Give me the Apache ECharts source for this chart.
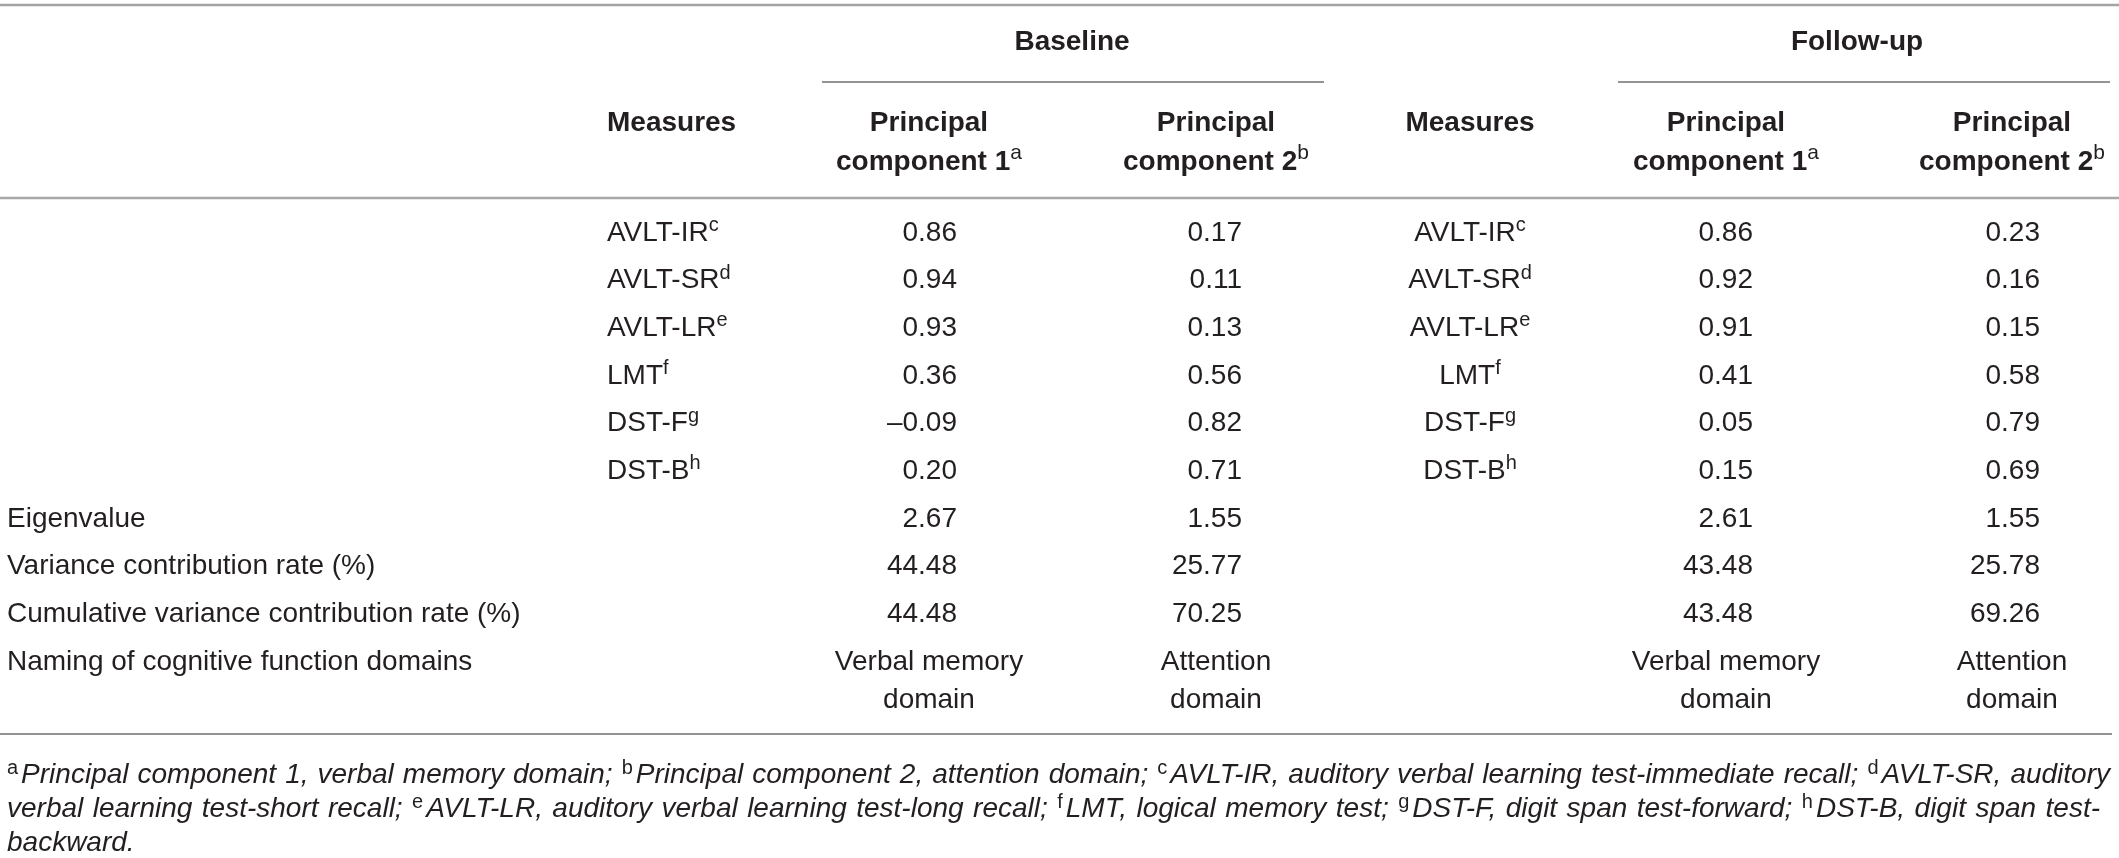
<!DOCTYPE html>
<html>
<head>
<meta charset="utf-8">
<script src="https://cdn.jsdelivr.net/npm/echarts@6/dist/echarts.min.js"></script>
<style>
  html, body { margin: 0; padding: 0; background: #fff; }
  #main { width: 2119px; height: 858px; }
</style>
</head>
<body>
<div id="main"></div>
<script>
// table data
const rowKeys = ['IR', 'SR', 'LR', 'LMT', 'DSTF', 'DSTB', 'EIG', 'VAR', 'CUM', 'NAME'];
const measures = ['AVLT-IR', 'AVLT-SR', 'AVLT-LR', 'LMT', 'DST-F', 'DST-B'];
const measureNotes = ['c', 'd', 'e', 'f', 'g', 'h'];
const baselinePC1 = [0.86, 0.94, 0.93, 0.36, -0.09, 0.20];
const baselinePC2 = [0.17, 0.11, 0.13, 0.56, 0.82, 0.71];
const followupPC1 = [0.86, 0.92, 0.91, 0.41, 0.05, 0.15];
const followupPC2 = [0.23, 0.16, 0.15, 0.58, 0.79, 0.69];
const statLabels = ['Eigenvalue', 'Variance contribution rate (%)', 'Cumulative variance contribution rate (%)'];
const baselineStat1 = [2.67, 44.48, 44.48];
const baselineStat2 = [1.55, 25.77, 70.25];
const followupStat1 = [2.61, 43.48, 43.48];
const followupStat2 = [1.55, 25.78, 69.26];
const namingLabel = 'Naming of cognitive function domains';
const domainNames = ['Verbal memory\ndomain', 'Attention\ndomain'];
const footnotes = [
  [['a', 'Principal component 1, verbal memory domain;'], ['b', 'Principal component 2, attention domain;'],
   ['c', 'AVLT-IR, auditory verbal learning test-immediate recall;'], ['d', 'AVLT-SR, auditory']],
  [['', 'verbal learning test-short recall;'], ['e', 'AVLT-LR, auditory verbal learning test-long recall;'],
   ['f', 'LMT, logical memory test;'], ['g', 'DST-F, digit span test-forward;'], ['h', 'DST-B, digit span test-']],
  [['', 'backward.']]
];

// column anchors (layout only)
const col = { label: 7, measB: 607, pc1B: 957, pc2B: 1242, measF: 1470, pc1F: 1753, pc2F: 2040 };
const mid = { pc1B: 929, pc2B: 1216, pc1F: 1726, pc2F: 2012 };

const FONT = '"Liberation Sans", Arial, Helvetica, sans-serif';
const INK = '#231f20';

function fmt(v) {
  return v < 0 ? '\u2013' + Math.abs(v).toFixed(2) : v.toFixed(2);
}

// build cells
const cells = [];
function add(x, row, text, align) {
  cells.push({ value: [x, rowKeys[row]], text: text, align: align });
}
measures.forEach(function (m, i) {
  add(col.measB, i, '{n|' + m + '}{s|' + measureNotes[i] + '}', 'left');
  add(col.pc1B, i, fmt(baselinePC1[i]), 'right');
  add(col.pc2B, i, fmt(baselinePC2[i]), 'right');
  add(col.measF, i, '{n|' + m + '}{s|' + measureNotes[i] + '}', 'center');
  add(col.pc1F, i, fmt(followupPC1[i]), 'right');
  add(col.pc2F, i, fmt(followupPC2[i]), 'right');
});
statLabels.forEach(function (l, j) {
  const r = measures.length + j;
  add(col.label, r, l, 'left');
  add(col.pc1B, r, fmt(baselineStat1[j]), 'right');
  add(col.pc2B, r, fmt(baselineStat2[j]), 'right');
  add(col.pc1F, r, fmt(followupStat1[j]), 'right');
  add(col.pc2F, r, fmt(followupStat2[j]), 'right');
});
add(col.label, 9, namingLabel, 'left');
add(mid.pc1B, 9, domainNames[0], 'center');
add(mid.pc2B, 9, domainNames[1], 'center');
add(mid.pc1F, 9, domainNames[0], 'center');
add(mid.pc2F, 9, domainNames[1], 'center');

const cellRich = {
  n: { fontSize: 28, fontFamily: FONT, fill: INK, lineHeight: 35 },
  s: { fontSize: 20, fontFamily: FONT, fill: INK, verticalAlign: 'top' }
};

function header(x, y, text, align) {
  return {
    type: 'text', x: x, y: y,
    style: {
      text: text, align: align || 'center', verticalAlign: 'middle',
      fontSize: 28, fontWeight: 'bold', fontFamily: FONT, fill: INK
    }
  };
}
function pcHeader(x, n, sup) {
  return {
    type: 'text', x: x, y: 103.5,
    style: {
      text: '{b|Principal}\n{b|component ' + n + '}{s|' + sup + '}',
      align: 'center', verticalAlign: 'top', fill: INK,
      rich: {
        b: { fontSize: 28, fontWeight: 'bold', fontFamily: FONT, fill: INK, lineHeight: 39 },
        s: { fontSize: 21, fontFamily: FONT, fill: INK, verticalAlign: 'top' }
      }
    }
  };
}
function rule(x1, x2, y, color, w) {
  return { type: 'line', shape: { x1: x1, y1: y, x2: x2, y2: y }, style: { stroke: color, lineWidth: w } };
}

// justified footnote lines, word by word
const measureCtx = document.createElement('canvas').getContext('2d');
function textWidth(t, font) {
  measureCtx.font = font;
  return measureCtx.measureText(t).width;
}
const footFont = 'italic 28px ' + FONT;
const supFont = '20px ' + FONT;
const supGap = 3;
const footRich = {
  i: { fontSize: 28, fontStyle: 'italic', fontFamily: FONT, fill: INK, lineHeight: 34 },
  s: { fontSize: 20, fontFamily: FONT, fill: INK, verticalAlign: 'top', padding: [0, supGap, 0, 0] }
};
function footLine(parts, y, right) {
  const words = [];
  parts.forEach(function (p) {
    p[1].split(' ').filter(Boolean).forEach(function (wd, k) {
      const sup = k === 0 ? p[0] : '';
      words.push({ sup: sup, word: wd, w: (sup ? textWidth(sup, supFont) + supGap : 0) + textWidth(wd, footFont) });
    });
  });
  let gap = textWidth(' ', footFont);
  if (right) {
    const total = words.reduce(function (s, o) { return s + o.w; }, 0);
    gap = (right - 7 - total) / (words.length - 1);
  }
  const els = [];
  let x = 7;
  words.forEach(function (o) {
    els.push({
      type: 'text', x: x, y: y,
      style: {
        text: (o.sup ? '{s|' + o.sup + '}' : '') + '{i|' + o.word + '}',
        align: 'left', verticalAlign: 'middle', rich: footRich
      }
    });
    x += o.w + gap;
  });
  return els;
}

const chart = echarts.init(document.getElementById('main'), null, { renderer: 'canvas' });
chart.setOption({
  backgroundColor: '#ffffff',
  animation: false,
  grid: { left: 0, right: 0, top: 209, bottom: 172 },
  xAxis: { type: 'value', min: 0, max: 2119, show: false },
  yAxis: { type: 'category', data: rowKeys, inverse: true, show: false },
  graphic: [
    rule(0, 2119, 5, '#a3a3a3', 2.5),
    rule(822, 1324, 82, '#6f6f6f', 1.5),
    rule(1618, 2110, 82, '#6f6f6f', 1.5),
    rule(0, 2119, 198, '#a8a8a8', 2.5),
    rule(0, 2112, 734, '#6f6f6f', 1.5),
    header(1072, 42, 'Baseline'),
    header(1857, 42, 'Follow-up'),
    header(607, 123, 'Measures', 'left'),
    header(1470, 123, 'Measures'),
    pcHeader(mid.pc1B, 1, 'a'),
    pcHeader(mid.pc2B, 2, 'b'),
    pcHeader(mid.pc1F, 1, 'a'),
    pcHeader(mid.pc2F, 2, 'b')
  ].concat(footLine(footnotes[0], 775, 2110), footLine(footnotes[1], 809, 2100), footLine(footnotes[2], 843)),
  series: [{
    type: 'custom',
    coordinateSystem: 'cartesian2d',
    data: cells,
    renderItem: function (params, api) {
      const c = cells[params.dataIndex];
      const p = api.coord([api.value(0), api.value(1)]);
      const twoLine = c.text.indexOf('\n') >= 0;
      return {
        type: 'text',
        x: p[0],
        y: twoLine ? p[1] - 19 : p[1],
        style: {
          text: c.text,
          align: c.align,
          verticalAlign: twoLine ? 'top' : 'middle',
          fontSize: 28,
          fontFamily: FONT,
          fill: INK,
          lineHeight: twoLine ? 38 : undefined,
          rich: c.text.indexOf('{') >= 0 ? cellRich : undefined
        }
      };
    }
  }]
});
</script>
</body>
</html>
